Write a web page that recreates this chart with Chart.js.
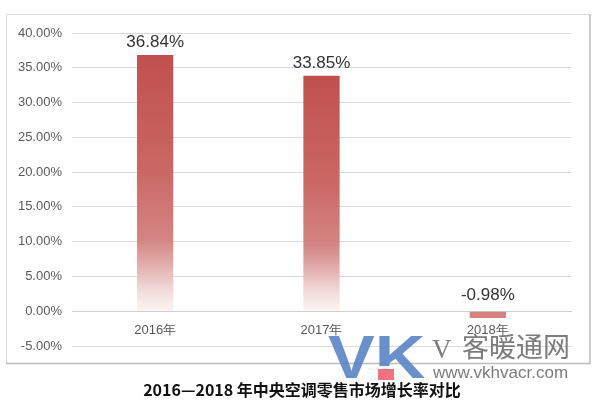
<!DOCTYPE html>
<html><head><meta charset="utf-8">
<script src="https://cdn.jsdelivr.net/npm/chart.js@4"></script>
<style>html,body{margin:0;padding:0;background:#fff}canvas{display:block}</style>
</head><body>
<canvas id="c" width="600" height="406"></canvas>
<script>
const categories = ['2016年', '2017年', '2018年'];
const growthRates = [36.84, 33.85, -0.98];
const yTickValues = [-5, 0, 5, 10, 15, 20, 25, 30, 35, 40];
const chartTitle = '2016—2018 年中央空调零售市场增长率对比';
const watermarkLogo = 'VK';
const watermarkName = 'V 客暖通网';
const watermarkUrl = 'www.vkhvacr.com';

function barFill(context) {
  const chart = context.chart;
  const v = context.raw;
  if (!chart.chartArea || v === undefined) return '#c55a57';
  if (v < 0) return '#d7817f';
  const y = chart.scales.y;
  const top = y.getPixelForValue(v);
  const bottom = y.getPixelForValue(0);
  const g = chart.ctx.createLinearGradient(0, top, 0, bottom);
  g.addColorStop(0, '#c0504d');
  g.addColorStop(0.45, '#ca6764');
  g.addColorStop(0.72, '#d48583');
  g.addColorStop(0.82, '#e2aeac');
  g.addColorStop(0.92, '#f2dcdc');
  g.addColorStop(1, '#fbf4f4');
  return g;
}

const framePlugin = {
  id: 'frame',
  beforeDraw(chart) {
    const ctx = chart.ctx;
    ctx.save();
    ctx.fillStyle = '#ffffff';
    ctx.fillRect(0, 0, chart.width, chart.height);
    ctx.strokeStyle = '#d9d9d9';
    ctx.lineWidth = 1;
    ctx.beginPath();
    ctx.moveTo(6.5, 363.5); ctx.lineTo(6.5, 14.5); ctx.lineTo(590, 14.5);
    ctx.stroke();
    ctx.strokeStyle = '#bdbdbd';
    ctx.lineWidth = 1.5;
    ctx.beginPath();
    ctx.moveTo(590, 14); ctx.lineTo(590, 363.5); ctx.lineTo(6, 363.5);
    ctx.stroke();
    ctx.restore();
  }
};

const labelPlugin = {
  id: 'valueLabels',
  afterDatasetsDraw(chart) {
    const ctx = chart.ctx;
    const meta = chart.getDatasetMeta(0);
    ctx.save();
    ctx.font = '17px "Liberation Sans", Arial, sans-serif';
    ctx.fillStyle = '#333333';
    ctx.textAlign = 'center';
    ctx.textBaseline = 'alphabetic';
    meta.data.forEach((el, i) => {
      const v = chart.data.datasets[0].data[i];
      const top = Math.min(el.y, el.base);
      ctx.fillText(v.toFixed(2) + '%', el.x, top - (v < 0 ? 12 : 8));
    });
    ctx.restore();
  }
};

const overlayPlugin = {
  id: 'overlay',
  afterDraw(chart) {
    const ctx = chart.ctx;
    ctx.save();
    // title
    ctx.fillStyle = '#111111';
    ctx.font = 'bold 16px "Noto Sans CJK SC", sans-serif';
    ctx.textAlign = 'center';
    ctx.textBaseline = 'middle';
    ctx.fillText(chartTitle, 302, 390);
    // watermark
    ctx.globalAlpha = 0.9;
    ctx.textAlign = 'left';
    ctx.textBaseline = 'alphabetic';
    ctx.fillStyle = '#5a84c6';
    ctx.font = 'bold 62px "Liberation Sans", Arial, sans-serif';
    ctx.save();
    ctx.translate(328, 378);
    ctx.scale(1.13, 1);
    ctx.fillText(watermarkLogo, 0, 0);
    ctx.restore();
    ctx.fillStyle = '#ffffff';
    ctx.fillRect(376, 366, 20, 14);
    ctx.fillStyle = '#ee6670';
    ctx.fillRect(378, 369, 16, 11);
    ctx.fillStyle = '#6e6e6e';
    ctx.font = '27px "Liberation Serif", "Noto Sans CJK SC", serif';
    ctx.fillText(watermarkName.slice(0, 1), 432, 358);
    ctx.font = '27px "Noto Sans CJK SC", sans-serif';
    ctx.fillText(watermarkName.slice(2), 462, 357);
    ctx.font = '17px "Liberation Sans", Arial, sans-serif';
    ctx.fillText(watermarkUrl, 433, 378);
    ctx.restore();
  }
};

new Chart(document.getElementById('c'), {
  type: 'bar',
  data: {
    labels: categories,
    datasets: [{
      data: growthRates,
      backgroundColor: barFill,
      borderWidth: 0,
      categoryPercentage: 1,
      barPercentage: 0.218
    }]
  },
  options: {
    responsive: false,
    animation: false,
    devicePixelRatio: 1,
    layout: { padding: { left: 0, right: 29, top: 33, bottom: 60 } },
    plugins: { legend: { display: false }, tooltip: { enabled: false }, title: { display: false } },
    scales: {
      x: {
        position: { y: 0 },
        offset: true,
        grid: { display: false, drawTicks: false, tickLength: 0 },
        border: { display: true, color: '#cfcfcf', width: 1 },
        ticks: { color: '#595959', font: { size: 13, family: '"Liberation Sans", Arial, sans-serif' }, padding: 11, maxRotation: 0 }
      },
      y: {
        min: -5, max: 40,
        afterBuildTicks(scale) { scale.ticks = yTickValues.map(v => ({ value: v })); },
        afterFit(scale) { scale.width = 72; },
        grid: { color: '#d9d9d9', drawTicks: false, lineWidth: 1 },
        border: { display: false },
        ticks: {
          color: '#595959',
          padding: 10,
          font: { size: 13, family: '"Liberation Sans", Arial, sans-serif' },
          callback: v => Number(v).toFixed(2) + '%'
        }
      }
    }
  },
  plugins: [framePlugin, labelPlugin, overlayPlugin]
});
</script>
</body></html>
